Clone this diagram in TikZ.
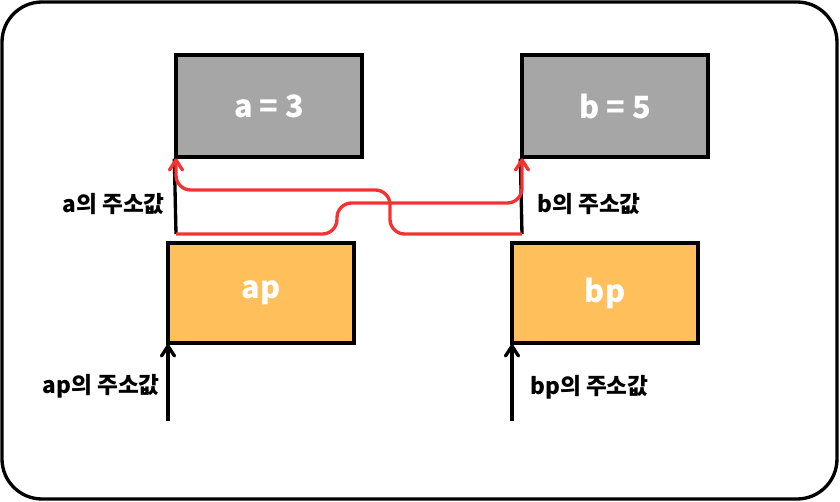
\documentclass[tikz,border=0pt]{standalone}
\usepackage{fontspec}
\setmainfont{Noto Sans CJK KR}
\usetikzlibrary{arrows.meta}
\definecolor{boxgray}{RGB}{166,166,166}
\definecolor{boxorange}{RGB}{255,191,90}
\definecolor{redline}{RGB}{245,50,50}
\tikzset{
  x=0.75pt, y=-0.75pt,
  memA/.style={draw=black, line width=2.5pt, fill=boxgray, minimum width=139.5pt, minimum height=76.5pt, text=white, font=\bfseries\fontsize{23}{26}\selectfont},
  memP/.style={draw=black, line width=2.5pt, fill=boxorange, minimum width=139.5pt, minimum height=75pt, text=white, font=\bfseries\fontsize{23}{26}\selectfont},
  lbl/.style={font=\bfseries\fontsize{17}{20}\selectfont, inner sep=0pt},
  blk/.style={draw=black, line width=2.5pt},
  redp/.style={draw=redline, line width=2.5pt, rounded corners=11pt},
  chev/.style={line width=2.5pt, line cap=round, line join=round},
}
\begin{document}
\begin{tikzpicture}
\useasboundingbox (0,0) rectangle (840,502);
\draw[line width=2.5pt, rounded corners=30pt] (2,2) rectangle (837,499);

\node[memA] (a) at (269,106) {a = 3};
\node[memA] (b) at (615,106) {b = 5};
\node[memP] (ap) at (261,293) {ap};
\node[memP] (bp) at (605,293) {bp};

\coordinate (aend) at (176,234);
\coordinate (bend) at (522,234);
\coordinate (apin) at (168,421);
\coordinate (bpin) at (512,421);
\coordinate (aptip) at (168,346);
\coordinate (bptip) at (512,346);
\coordinate (atip) at (176,160);
\coordinate (btip) at (522,160);

\node[lbl, anchor=east] (la) at (165,204) {a의 주소값};
\node[lbl, anchor=west] (lb) at (537,204) {b의 주소값};
\node[lbl, anchor=east] (lap) at (160,386) {ap의 주소값};
\node[lbl, anchor=west] (lbp) at (530,387) {bp의 주소값};

\draw[blk] (aend) -- (a.south west);
\draw[blk] (bend) -- (b.south west);
\draw[blk] (apin) -- (aptip);
\draw[blk] (bpin) -- (bptip);
\draw[chev] ([shift={(-6.5,10)}]aptip) -- (aptip) -- ([shift={(6.5,10)}]aptip);
\draw[chev] ([shift={(-6.5,10)}]bptip) -- (bptip) -- ([shift={(6.5,10)}]bptip);

\draw[redp] (aend) -- (337,234) -- (337,203) -- (522,203) -- (btip);
\draw[redp] (bend) -- (390,234) -- (390,190) -- (176,190) -- (atip);
\draw[chev, draw=redline] ([shift={(-6.5,10)}]atip) -- (atip) -- ([shift={(6.5,10)}]atip);
\draw[chev, draw=redline] ([shift={(-6.5,10)}]btip) -- (btip) -- ([shift={(6.5,10)}]btip);
\end{tikzpicture}
\end{document}
